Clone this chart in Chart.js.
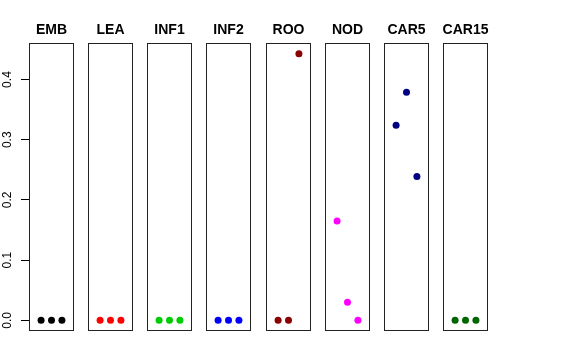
<!DOCTYPE html>
<html>
<head>
<meta charset="utf-8">
<script src="https://cdn.jsdelivr.net/npm/chart.js@4"></script>
<style>
  body { margin: 0; background: #fff; }
  #wrap { position: relative; width: 576px; height: 360px; overflow: hidden; }
  #wrap canvas { position: absolute; top: 0; }
</style>
</head>
<body>
<div id="wrap"></div>
<script>
  // Data.
  const panels = ['EMB', 'LEA', 'INF1', 'INF2', 'ROO', 'NOD', 'CAR5', 'CAR15'];
  const replicates = [1, 2, 3];
  const embValues = [0, 0, 0];
  const leaValues = [0, 0, 0];
  const inf1Values = [0, 0, 0];
  const inf2Values = [0, 0, 0];
  const rooValues = [0, 0, 0.443];
  const nodValues = [0.165, 0.030, 0.0];
  const car5Values = [0.324, 0.379, 0.239];
  const car15Values = [0, 0, 0];
  const yTicks = [0, 0.1, 0.2, 0.3, 0.4];

  const seriesValues = [embValues, leaValues, inf1Values, inf2Values, rooValues, nodValues, car5Values, car15Values];
  const colors = ['#000000', '#ff0000', '#00cd00', '#0000ff', '#8b0000', '#ff00ff', '#000080', '#006400'];

  // Layout.
  const FONT = '"Liberation Sans", Arial, sans-serif';
  const AXIS_W = 29;
  const BOX_W = 45;
  const PITCH = 59.14;
  const SIDE = 20;
  const TOP = 43;
  const BOTTOM = 29;

  // R-style axis ranges (4% padding).
  const Y_MIN = -0.0177;
  const Y_MAX = 0.4607;
  const X_MIN = -0.16;
  const X_MAX = 4.16;

  // ===========================================================================
  // PLUGINS
  // ===========================================================================

  const panelFrame = {
    id: 'panelFrame',
    afterDraw(chart, args, opts) {
      const { ctx, chartArea: a } = chart;
      ctx.save();
      ctx.strokeStyle = '#222';
      ctx.lineWidth = 1;
      ctx.strokeRect(Math.round(a.left) + 0.5, Math.round(a.top) + 0.5,
        Math.round(a.right - a.left) - 1, Math.round(a.bottom - a.top) - 1);

      ctx.fillStyle = '#000';
      ctx.font = 'bold 14px ' + FONT;
      ctx.textAlign = 'center';
      ctx.textBaseline = 'alphabetic';
      ctx.fillText(opts.title, (a.left + a.right) / 2, a.top - 9);
      ctx.restore();
    },
  };

  const yLabels = {
    id: 'yLabels',
    afterDraw(chart) {
      const scale = chart.scales.y;
      if (!scale.options.display) return;
      const { ctx } = chart;
      ctx.save();
      ctx.fillStyle = '#000';
      ctx.font = '12px ' + FONT;
      ctx.textAlign = 'center';
      ctx.textBaseline = 'alphabetic';
      scale.ticks.forEach(t => {
        const y = scale.getPixelForValue(t.value);
        ctx.save();
        ctx.translate(11, y);
        ctx.rotate(-Math.PI / 2);
        ctx.fillText(t.value.toFixed(1), 0, 0);
        ctx.restore();
      });
      ctx.restore();
    },
  };

  // ===========================================================================
  // PANELS
  // ===========================================================================

  const wrap = document.getElementById('wrap');

  panels.forEach((name, i) => {
    const first = i === 0;
    const boxLeft = Math.round(AXIS_W + i * PITCH);
    const padLeft = first ? AXIS_W : SIDE;
    const canvas = document.createElement('canvas');
    canvas.width = padLeft + BOX_W + SIDE;
    canvas.height = 360;
    canvas.style.left = (boxLeft - padLeft) + 'px';
    wrap.appendChild(canvas);

    new Chart(canvas, {
      type: 'scatter',
      data: {
        datasets: [{
          data: replicates.map((r, k) => ({ x: r, y: seriesValues[i][k] })),
          backgroundColor: colors[i],
          borderWidth: 0,
          pointRadius: 3.5,
          pointHoverRadius: 3.5,
        }],
      },
      options: {
        responsive: false,
        animation: false,
        events: [],
        layout: {
          padding: { left: first ? 0 : SIDE, right: SIDE, top: TOP, bottom: BOTTOM },
        },
        plugins: {
          legend: { display: false },
          tooltip: { enabled: false },
          panelFrame: { title: name },
        },
        scales: {
          x: {
            type: 'linear',
            display: false,
            min: X_MIN,
            max: X_MAX,
          },
          y: {
            type: 'linear',
            display: first,
            min: Y_MIN,
            max: Y_MAX,
            afterBuildTicks(scale) {
              scale.ticks = yTicks.map(v => ({ value: v }));
            },
            afterFit(scale) {
              if (scale.options.display) scale.width = AXIS_W;
            },
            border: { display: false },
            grid: {
              drawOnChartArea: false,
              drawTicks: true,
              tickLength: 8,
              color: '#000',
            },
            ticks: { display: false },
          },
        },
      },
      plugins: [panelFrame, yLabels],
    });
  });
</script>
</body>
</html>
